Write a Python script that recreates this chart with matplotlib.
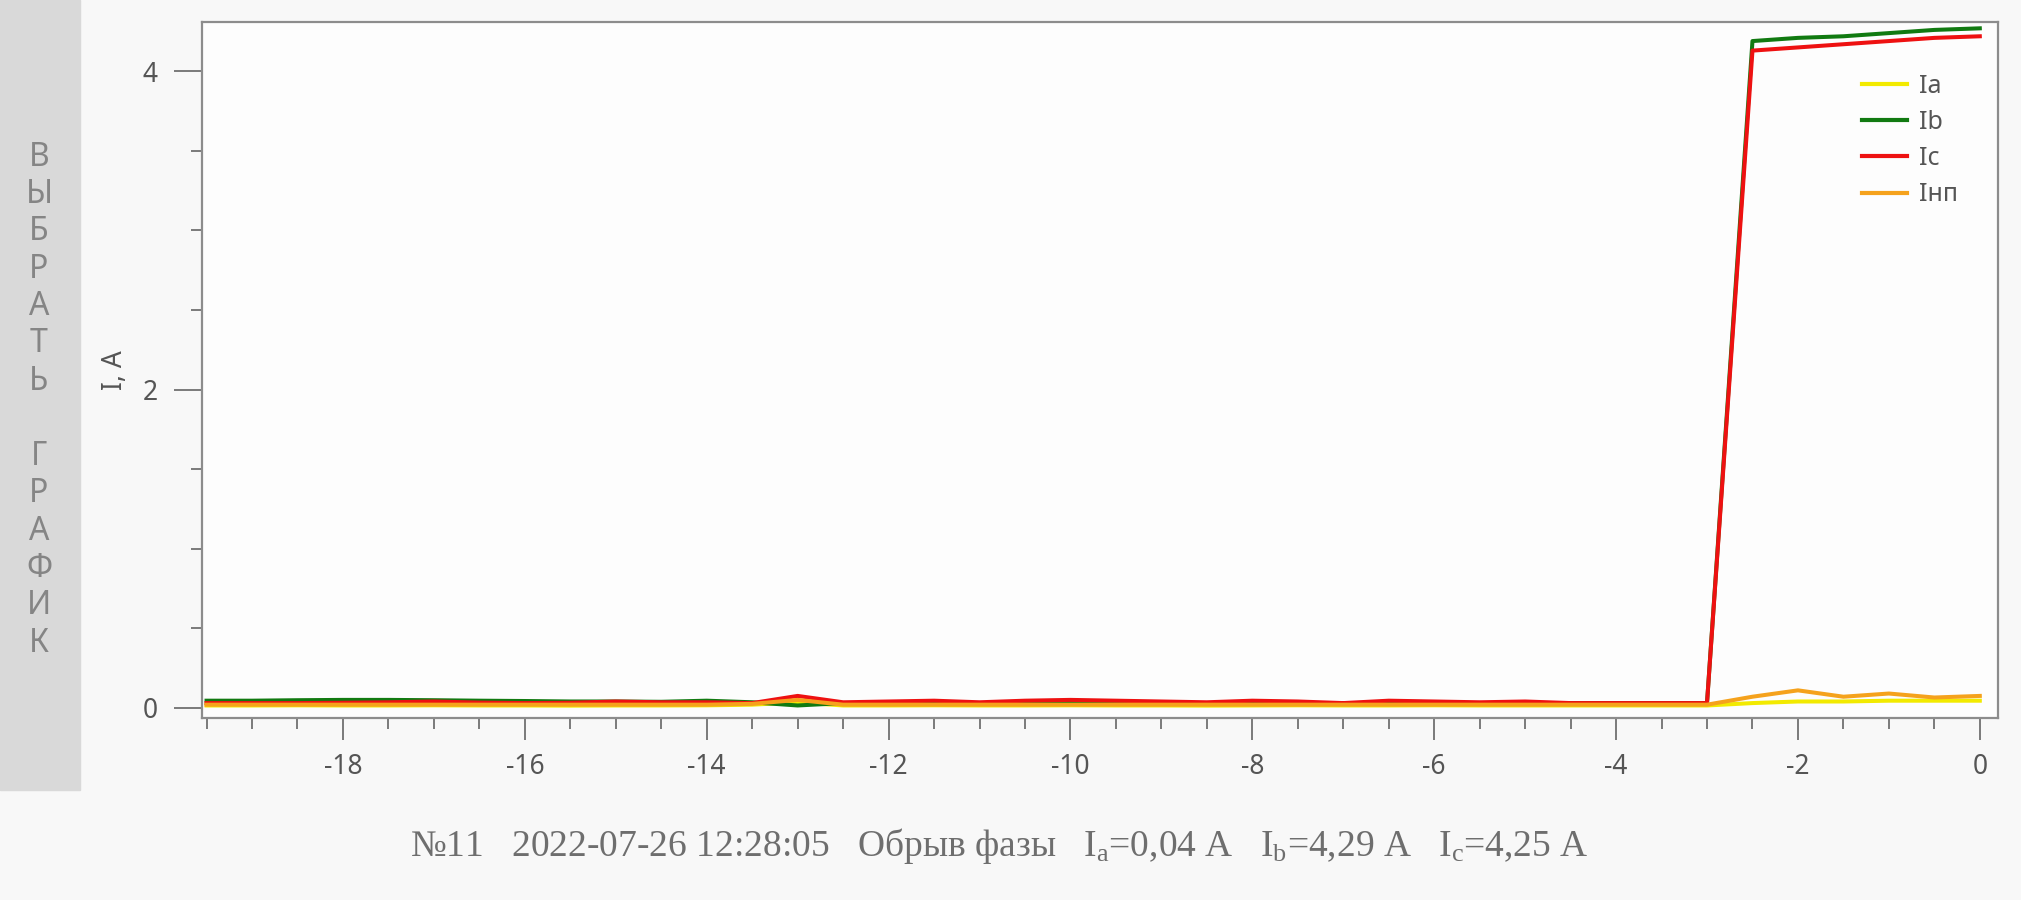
import matplotlib
matplotlib.use("Agg")
import matplotlib.pyplot as plt
from matplotlib.patches import Rectangle
from matplotlib.ticker import MultipleLocator

# data: time (s) and phase currents (A)

t = [-19.5, -19.0, -18.5, -18.0, -17.5, -17.0, -16.5, -16.0, -15.5, -15.0,
     -14.5, -14.0, -13.5, -13.0, -12.5, -12.0, -11.5, -11.0, -10.5, -10.0,
     -9.5, -9.0, -8.5, -8.0, -7.5, -7.0, -6.5, -6.0, -5.5, -5.0,
     -4.5, -4.0, -3.5, -3.0, -2.5, -2.0, -1.5, -1.0, -0.5, 0.0]

ia = [0.015, 0.015, 0.016, 0.015, 0.015, 0.016, 0.015, 0.015, 0.014, 0.015,
      0.015, 0.016, 0.02, 0.035, 0.015, 0.015, 0.016, 0.015, 0.015, 0.016,
      0.015, 0.015, 0.014, 0.015, 0.016, 0.015, 0.015, 0.016, 0.015, 0.015,
      0.015, 0.015, 0.015, 0.015, 0.03, 0.04, 0.04, 0.045, 0.045, 0.045]

ib = [0.045, 0.045, 0.048, 0.05, 0.05, 0.048, 0.045, 0.043, 0.04, 0.04,
      0.038, 0.045, 0.035, 0.015, 0.03, 0.03, 0.032, 0.03, 0.03, 0.032,
      0.03, 0.03, 0.03, 0.032, 0.03, 0.03, 0.03, 0.03, 0.03, 0.03,
      0.03, 0.03, 0.03, 0.03, 4.19, 4.21, 4.22, 4.24, 4.26, 4.27]

ic = [0.03, 0.03, 0.03, 0.032, 0.035, 0.04, 0.033, 0.03, 0.032, 0.04,
      0.035, 0.035, 0.03, 0.075, 0.035, 0.04, 0.045, 0.035, 0.045, 0.05,
      0.045, 0.04, 0.035, 0.045, 0.04, 0.03, 0.045, 0.04, 0.035, 0.04,
      0.03, 0.03, 0.03, 0.03, 4.13, 4.15, 4.17, 4.19, 4.21, 4.22]

inp = [0.02, 0.02, 0.02, 0.02, 0.02, 0.02, 0.02, 0.02, 0.02, 0.02,
       0.02, 0.02, 0.025, 0.05, 0.02, 0.02, 0.02, 0.02, 0.02, 0.02,
       0.02, 0.02, 0.02, 0.02, 0.02, 0.02, 0.02, 0.02, 0.02, 0.02,
       0.02, 0.02, 0.02, 0.02, 0.07, 0.11, 0.07, 0.09, 0.065, 0.075]

series = [("Ia", ia, "#f2ea00"), ("Ib", ib, "#117a11"),
          ("Ic", ic, "#ee1111"), ("Iнп", inp, "#f5a21c")]

caption = (r"№11   2022-07-26 12:28:05   Обрыв фазы   "
           r"$\mathregular{I_a}$=0,04 А   $\mathregular{I_b}$=4,29 А   "
           r"$\mathregular{I_c}$=4,25 А")
side_word = "ВЫБРАТЬ ГРАФИК"

plt.rcParams["axes.unicode_minus"] = False
plt.rcParams["mathtext.fontset"] = "custom"
plt.rcParams["mathtext.rm"] = "Liberation Serif"

fig = plt.figure(figsize=(20.21, 9), dpi=100, facecolor="#f8f8f8")
ax = fig.add_axes([202 / 2021, 0.202, 1796 / 2021, 0.7736], facecolor="#fdfdfd")

for name, vals, col in series:
    ax.plot(t, vals, color=col, lw=2.9, label=name)

ax.set_xlim(-19.55, 0.2)
ax.set_ylim(-0.065, 4.31)
ax.xaxis.set_major_locator(MultipleLocator(2))
ax.xaxis.set_minor_locator(MultipleLocator(0.5))
ax.yaxis.set_major_locator(MultipleLocator(2))
ax.yaxis.set_minor_locator(MultipleLocator(0.5))

grey = "#7a7a7a"
for sp in ax.spines.values():
    sp.set_color("#8c8c8c")
    sp.set_linewidth(1.6)
ax.tick_params(which="major", length=16, width=1.4, color=grey,
               labelsize=19, labelcolor="#555555", pad=9)
ax.tick_params(axis="y", which="major", length=20, pad=12)
ax.tick_params(which="minor", length=8, width=1.4, color=grey)
for lab in ax.get_xticklabels() + ax.get_yticklabels():
    lab.set_family("Noto Sans")

ax.set_ylabel("I, A", fontsize=19, color="#555555", family="Noto Sans")
ax.yaxis.set_label_coords(-0.0406, 0.5)

leg = ax.legend(loc="upper right", bbox_to_anchor=(0.99, 0.958), frameon=False,
                handlelength=1.8, handletextpad=0.45, labelspacing=0.45,
                prop={"family": "Noto Sans", "size": 18})
for txt in leg.get_texts():
    txt.set_color("#555555")
for h in leg.get_lines():
    h.set_linewidth(3)

# grey side panel with the vertical caption
fig.patches.append(Rectangle((0, 1 - 790 / 900), 80 / 2021, 790 / 900,
                             transform=fig.transFigure, color="#d9d9d9", zorder=0))
y0 = 1 - 157 / 900
for i, ch in enumerate(side_word):
    fig.text(39 / 2021, y0 - i * 37.4 / 900, ch, ha="center", va="center",
             fontsize=23, color="#858585", family="Noto Sans")

fig.text(999 / 2021, 1 - 846 / 900, caption, ha="center", va="center",
         fontsize=27, color="#6e6e6e", family="Liberation Serif")

fig.savefig("out.png", dpi=100, facecolor=fig.get_facecolor())
